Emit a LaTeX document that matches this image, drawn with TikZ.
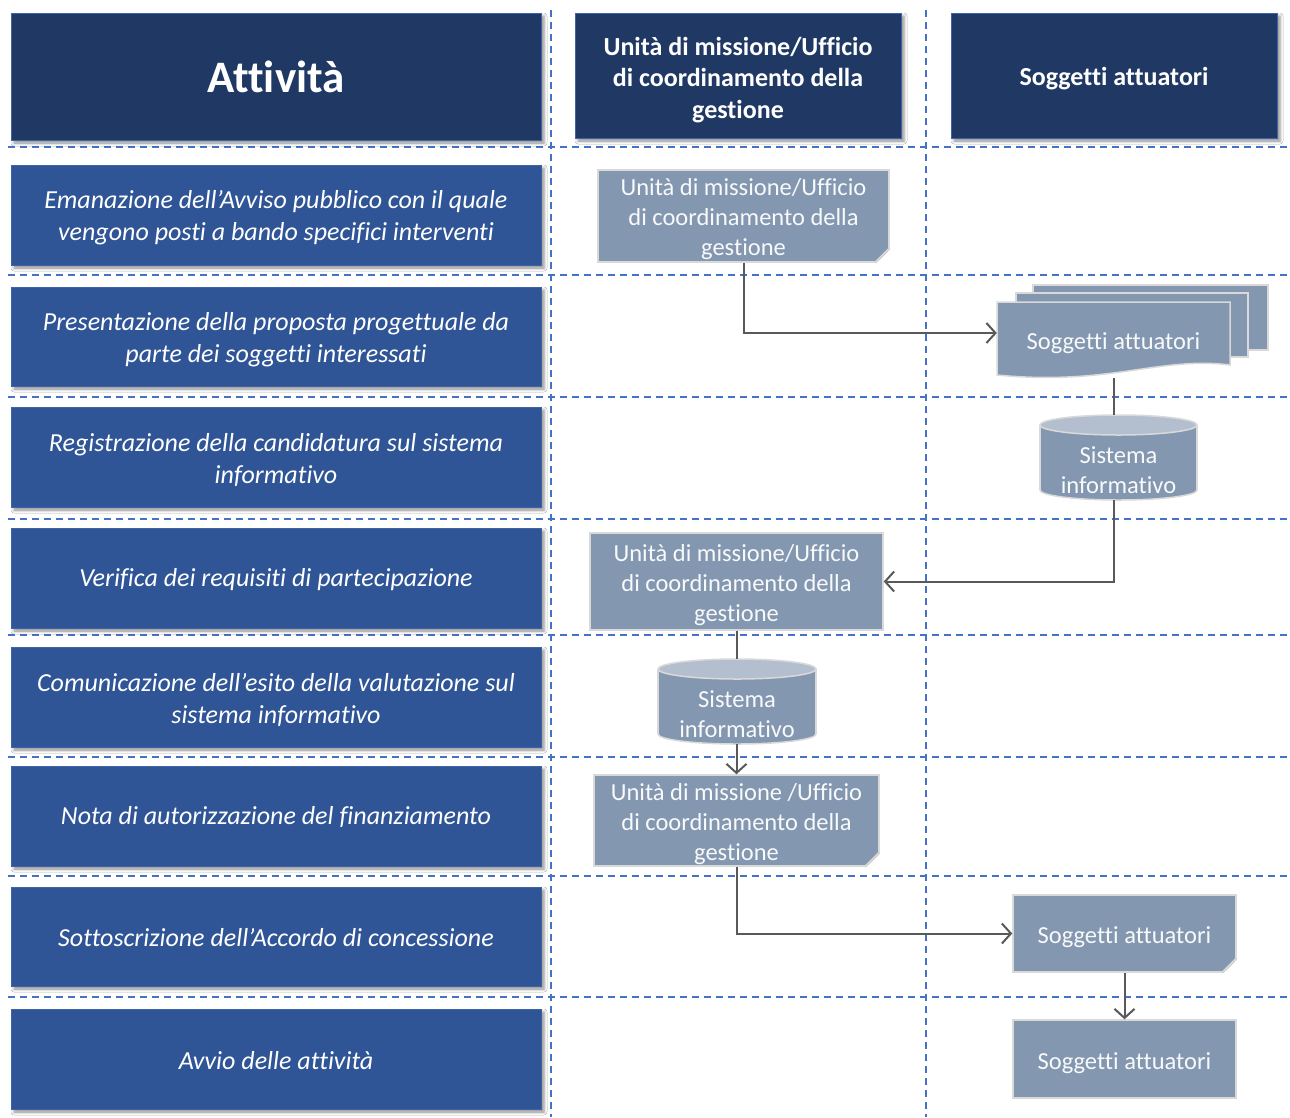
\documentclass[tikz,border=0pt]{standalone}
\usepackage{fontspec}
\setmainfont{Carlito}[Ligatures={NoCommon}]
\usetikzlibrary{arrows.meta,shadows.blur}

\definecolor{headblue}{HTML}{203864}
\definecolor{rowblue}{HTML}{2F5597}
\definecolor{rimblue}{HTML}{3D64AA}
\definecolor{dashblue}{HTML}{4472C4}
\definecolor{slate}{HTML}{8497B0}
\definecolor{slatetop}{HTML}{B3BFCF}
\definecolor{slaterim}{HTML}{D9D9D9}
\definecolor{folddark}{HTML}{5A6677}
\definecolor{flowgray}{HTML}{595959}

% invisible strut that gives the first line of a text block extra height
\newcommand\lift[1]{\rule{0pt}{#1}}

\tikzset{
  % a strut before a one-line text pushes it down inside its box
  lowered/.style={execute at begin node={\rule{0pt}{#1}}},
  softshadow/.style={blur shadow={shadow xshift=3pt, shadow yshift=-3pt,
      shadow blur radius=3pt, shadow opacity=45}},
  lanehead/.style={fill=headblue, draw=rimblue, line width=1pt, text=white,
      font=\bfseries\fontsize{26}{31.5}\selectfont, align=center, inner sep=0pt,
      softshadow, lowered=23.5pt},
  activity/.style={fill=rowblue, draw=rimblue, line width=1pt, text=white,
      font=\itshape\fontsize{26}{32}\selectfont, align=center, inner sep=0pt,
      minimum width=530pt, softshadow, lowered=20.5pt},
  actor/.style={fill=slate, draw=slaterim, line width=1.5pt, text=white!94!slate,
      font=\fontsize{24.5}{30}\selectfont, align=center, inner sep=0pt,
      lowered=24.5pt},
  actortext/.style={text=white!94!slate, font=\fontsize{24.5}{30}\selectfont,
      align=center, inner sep=0pt},
  lanesep/.style={draw=dashblue, line width=1.8pt, dash pattern=on 7pt off 5pt},
  flowline/.style={draw=flowgray, line width=2pt},
  flowarrow/.style={flowline, -{Straight Barb[length=9pt,width=20pt,line width=2pt]}},
}

% folded corner at the lower right of a node
\newcommand\dogear[1]{%
  \fill[white] ([xshift=-15pt,yshift=-2pt]#1.south east) -- ([xshift=2pt,yshift=-2pt]#1.south east)
     -- ([xshift=2pt,yshift=15pt]#1.south east) -- cycle;
  \draw[slaterim, line width=1.5pt] ([xshift=-15pt]#1.south east) -- ([yshift=15pt]#1.south east);
  \filldraw[fill=folddark, draw=slaterim, line width=1pt]
     ([xshift=-14pt]#1.south east) -- ([yshift=14pt]#1.south east)
     -- ([xshift=-11pt,yshift=4pt]#1.south east) -- cycle;
}

% storage cylinder: centre x, top y, bottom y, half width
\newcommand\drum[4]{%
  \filldraw[fill=slate, draw=slaterim, line width=1.5pt] (#1,#3-10) ellipse [x radius=#4, y radius=10];
  \fill[slate] (#1-#4,#2+10) rectangle (#1+#4,#3-10);
  \draw[slaterim, line width=1.5pt] (#1-#4,#2+10) -- (#1-#4,#3-10) (#1+#4,#2+10) -- (#1+#4,#3-10);
  \filldraw[fill=slatetop, draw=slaterim, line width=1.5pt] (#1,#2+10) ellipse [x radius=#4, y radius=10];
}

\begin{document}
\begin{tikzpicture}[x=1pt, y=-1pt]
\useasboundingbox[fill=white] (0,0) rectangle (1290,1117);

% swimlane separators
\foreach \yy in {147,275,397,519,635,757,876,997}
  \draw[lanesep] (8,\yy) -- (1290,\yy);
\foreach \xx in {551,926}
  \draw[lanesep] (\xx,10) -- (\xx,1117);

% column headings
\node[lanehead, minimum width=530pt, minimum height=127pt,
      font=\bfseries\fontsize{45}{50}\selectfont] (hact) at (276,76.5) {Attività};
\node[lanehead, minimum width=326pt, minimum height=125pt] (hunit) at (738,75.5)
  {\lift{27pt}Unità di missione/Ufficio\\di coordinamento della\\gestione};
\node[lanehead, minimum width=326pt, minimum height=125pt] (hsogg) at (1114,75.5)
  {Soggetti attuatori};

% activities
\node[activity, minimum height=100pt] (a1) at (276,215)
  {\lift{23.5pt}Emanazione dell’Avviso pubblico con il quale\\vengono posti a bando specifici interventi};
\node[activity, minimum height=99pt] (a2) at (276,336.5)
  {\lift{23.5pt}Presentazione della proposta progettuale da\\parte dei soggetti interessati};
\node[activity, minimum height=100pt] (a3) at (276,457)
  {\lift{23.5pt}Registrazione della candidatura sul sistema\\informativo};
\node[activity, minimum height=100pt] (a4) at (276,578)
  {Verifica dei requisiti di partecipazione};
\node[activity, minimum height=100pt] (a5) at (276,697)
  {\lift{23.5pt}Comunicazione dell’esito della valutazione sul\\sistema informativo};
\node[activity, minimum height=100pt] (a6) at (276,816)
  {Nota di autorizzazione del finanziamento};
\node[activity, minimum height=99pt] (a7) at (276,936.5)
  {Sottoscrizione dell’Accordo di concessione};
\node[activity, minimum height=100pt] (a8) at (276,1059)
  {Avvio delle attività};

% actors
\node[actor, minimum width=291pt, minimum height=92pt] (g1) at (743.5,216)
  {\lift{23.5pt}Unità di missione/Ufficio\\di coordinamento della\\gestione};
\dogear{g1}

% stacked documents
\filldraw[fill=slate, draw=slaterim, line width=1.5pt] (1033,285) rectangle (1268,350);
\filldraw[fill=slate, draw=slaterim, line width=1.5pt] (1016,293) rectangle (1248,357);
\filldraw[fill=slate, draw=slaterim, line width=1.5pt]
  (997,302) -- (1230,302) -- (1230,365)
  .. controls (1160,356) and (1110,386) .. (997,375) -- cycle;
\node[actortext, minimum width=233pt, minimum height=76pt, lowered=24pt] (md) at (1113.5,340)
  {Soggetti attuatori};

\drum{1118.5}{415}{500}{78.5}
\node[minimum width=157pt, minimum height=85pt, inner sep=0pt] (cyl1) at (1118.5,457.5) {};
\node[actortext] (cyl1txt) at (1118.5,470) {Sistema\\informativo};

\node[actor, minimum width=293pt, minimum height=97pt] (g2) at (736.5,581.5)
  {\lift{23.5pt}Unità di missione/Ufficio\\di coordinamento della\\gestione};

\drum{737}{659}{744}{79}
\node[minimum width=158pt, minimum height=85pt, inner sep=0pt] (cyl2) at (737,701.5) {};
\node[actortext] (cyl2txt) at (737,714) {Sistema\\informativo};

\node[actor, minimum width=285pt, minimum height=91pt] (g3) at (736.5,820.5)
  {\lift{23.5pt}Unità di missione /Ufficio\\di coordinamento della\\gestione};
\dogear{g3}

\node[actor, minimum width=223pt, minimum height=77pt] (g4) at (1124.5,933.5)
  {Soggetti attuatori};
\dogear{g4}

\node[actor, minimum width=223pt, minimum height=78pt] (g5) at (1124.5,1059)
  {Soggetti attuatori};

% flow
\draw[flowarrow] (g1.south) |- ([yshift=7pt]md.west);
\draw[flowline] (md.south) -- (md.south |- cyl1.north);
\draw[flowarrow] (md.south |- cyl1.south) |- (g2.east);
\draw[flowline] (g2.south) -- (g2.south |- cyl2.north);
\draw[flowarrow] (g2.south |- cyl2.south) -- (g3.north);
\draw[flowarrow] (g3.south) |- (g4.west);
\draw[flowarrow] (g4.south) -- (g5.north);
\end{tikzpicture}
\end{document}
